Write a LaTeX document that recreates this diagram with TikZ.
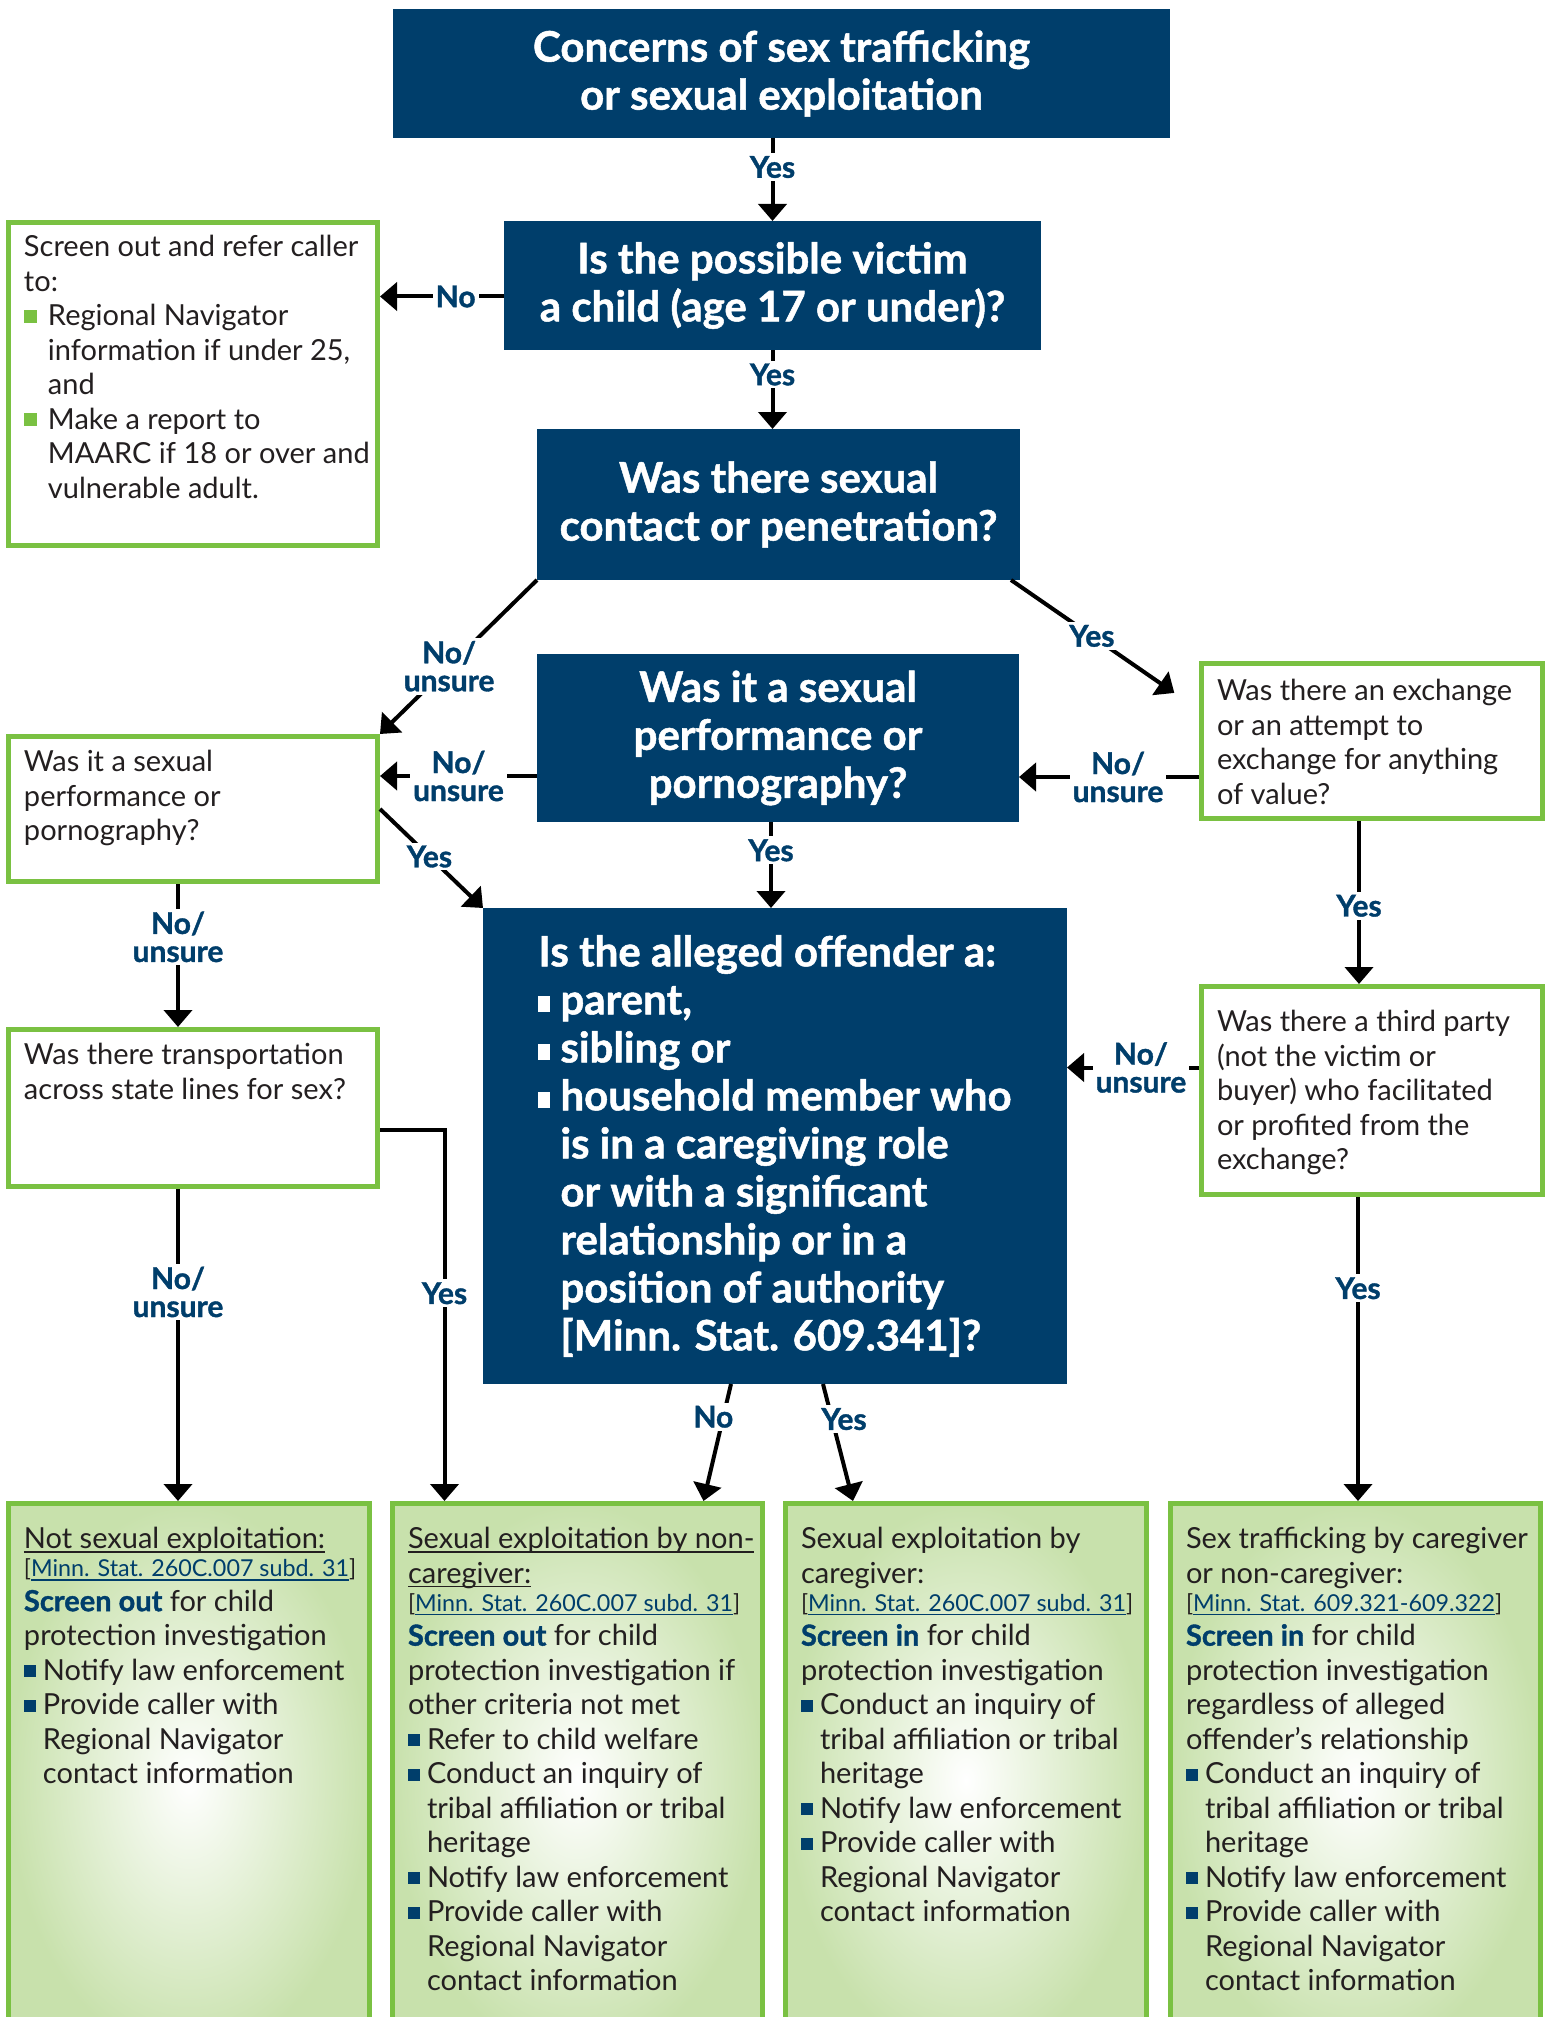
\documentclass[tikz,border=0pt]{standalone}
\usepackage{fontspec}
\setmainfont{Lato}[BoldFeatures={FakeBold=1.2}]
\usepackage{tikz}
\usetikzlibrary{arrows.meta}

\definecolor{navy}{RGB}{0,62,107}
\definecolor{grn}{RGB}{122,193,66}
\definecolor{lgrn}{RGB}{200,225,172}
\definecolor{ink}{RGB}{35,31,32}

\newcommand{\qfont}{\fontsize{42}{48}\selectfont\bfseries}
\newcommand{\bodyfont}{\fontsize{29}{34.5}\selectfont}
\newcommand{\lblfont}{\fontsize{30}{28}\selectfont\bfseries}
\newcommand{\boxtext}[4][11pt]{\parbox[t][#3][t]{#2}{\raggedright\leftskip=15.5pt\vspace*{#1}\strut #4}}
\newcommand{\undl}[1]{\leavevmode\setbox0\hbox{#1}\rlap{\rule[-4pt]{\wd0}{1.3pt}}\box0}
\newcommand{\gsq}{\makebox[24pt][l]{\textcolor{grn}{\rule[3pt]{13pt}{13pt}}}}
\newcommand{\nsq}{\makebox[19pt][l]{\textcolor{navy}{\rule[3pt]{12pt}{12pt}}}}
\newcommand{\wsq}{\makebox[22pt][l]{\rule[2pt]{12pt}{16pt}}}
\newcommand{\gin}{\hspace*{24pt}}
\newcommand{\nin}{\hspace*{19pt}}
\newcommand{\win}{\hspace*{22pt}}
\newcommand{\scr}[1]{\textcolor{navy}{\textbf{#1}}}
\newcommand{\stat}[1]{{\fontsize{23.3}{28}\selectfont[\textcolor{navy}{\undl{Minn. Stat. #1}}]}}

\tikzset{
  qbox/.style={fill=navy, text=white, font=\qfont, align=center, inner sep=0pt, outer sep=0pt},
  gline/.style={draw=grn, line width=5pt, inner sep=0pt, anchor=north west, text=ink, font=\bodyfont},
  gbox/.style={gline, fill=white},
  rbox/.style={gline, inner color=white, outer color=lgrn},
  lbl/.style={fill=white, text=navy, font=\lblfont, align=center, inner sep=3pt}
}

\begin{document}
\begin{tikzpicture}[x=1pt, y=-1pt, line width=4pt, >={Triangle[width=28pt,length=17pt]}]
    \useasboundingbox (0,0) rectangle (1552,2017);
    \clip (0,0) rectangle (1552,2017);

    % questions
    \node[qbox, minimum width=777pt, minimum height=129pt] (concern) at (781.5,73.5) {Concerns of sex trafficking\\or sexual exploitation};
    \node[qbox, minimum width=537pt, minimum height=129pt] (child) at (772.5,285.5) {Is the possible victim\\a child (age 17 or under)?};
    \node[qbox, minimum width=483pt, minimum height=151pt] (contact) at (778.5,504.5) {Was there sexual\\contact or penetration?};
    \node[qbox, minimum width=482pt, minimum height=168pt] (perform) at (778,738) {Was it a sexual\\performance or\\pornography?};
    \node[qbox, minimum width=584pt, minimum height=476pt, align=left] (offender) at (775,1146) {Is the alleged offender a:\\
        \wsq parent,\\
        \wsq sibling or\\
        \wsq household member who\\
        \win is in a caregiving role\\
        \win or with a significant\\
        \win relationship or in a\\
        \win position of authority\\
        \win [Minn. Stat. 609.341]?};

    % side questions
    \node[gbox] (refer) at (6,220) {\boxtext[10pt]{369pt}{323pt}{Screen out and refer caller\\
        to:\\
        \gsq Regional Navigator\\
        \gin information if under 25,\\
        \gin and\\
        \gsq Make a report to\\
        \gin MAARC if 18 or over and\\
        \gin vulnerable adult.}};
    \node[gbox] (perf) at (6,734) {\boxtext{369pt}{145pt}{Was it a sexual\\performance or\\pornography?}};
    \node[gbox] (trans) at (6,1027) {\boxtext{369pt}{157pt}{Was there transportation\\across state lines for sex?}};
    \node[gbox] (exch) at (1199,661) {\boxtext[13pt]{341pt}{155pt}{Was there an exchange\\or an attempt to\\exchange for anything\\of value?}};
    \node[gbox] (third) at (1199,984) {\boxtext[21pt]{341pt}{208pt}{Was there a third party\\(not the victim or\\buyer) who facilitated\\or profited from the\\exchange?}};

    % outcomes
    \node[rbox] (notsx) at (6,1501) {\boxtext[21pt]{361pt}{554pt}{\undl{Not sexual exploitation:}\\[-6.5pt]
        \stat{260C.007 subd. 31}\\
        \scr{Screen out} for child\\
        protection investigation\\
        \nsq Notify law enforcement\\
        \nsq Provide caller with\\
        \nin Regional Navigator\\
        \nin contact information}};
    \node[rbox] (noncare) at (390,1501) {\boxtext[21pt]{370pt}{554pt}{\undl{Sexual exploitation by non-}\\
        \undl{caregiver:}\\[-6.5pt]
        \stat{260C.007 subd. 31}\\
        \scr{Screen out} for child\\
        protection investigation if\\
        other criteria not met\\
        \nsq Refer to child welfare\\
        \nsq Conduct an inquiry of\\
        \nin tribal affiliation or tribal\\
        \nin heritage\\
        \nsq Notify law enforcement\\
        \nsq Provide caller with\\
        \nin Regional Navigator\\
        \nin contact information}};
    \node[rbox] (care) at (783,1501) {\boxtext[21pt]{361pt}{554pt}{Sexual exploitation by\\
        caregiver:\\[-6.5pt]
        \stat{260C.007 subd. 31}\\
        \scr{Screen in} for child\\
        protection investigation\\
        \nsq Conduct an inquiry of\\
        \nin tribal affiliation or tribal\\
        \nin heritage\\
        \nsq Notify law enforcement\\
        \nsq Provide caller with\\
        \nin Regional Navigator\\
        \nin contact information}};
    \node[rbox] (traff) at (1168,1501) {\boxtext[21pt]{370pt}{554pt}{Sex trafficking by caregiver\\
        or non-caregiver:\\[-6.5pt]
        \stat{609.321-609.322}\\
        \scr{Screen in} for child\\
        protection investigation\\
        regardless of alleged\\
        offender’s relationship\\
        \nsq Conduct an inquiry of\\
        \nin tribal affiliation or tribal\\
        \nin heritage\\
        \nsq Notify law enforcement\\
        \nsq Provide caller with\\
        \nin Regional Navigator\\
        \nin contact information}};

    % arrows
    \draw [->] (concern.south -| child.north) to node[lbl, pos=.35]{Yes} (child.north);
    \draw [->] ([yshift=-11pt]child.west) to node[lbl, pos=.39]{No} ([yshift=-11pt]child.west -| refer.east);
    \draw [->] (child.south) to node[lbl, pos=.31]{Yes} (child.south |- contact.north);
    \draw [->] (contact.south west) to node[lbl, pos=.56]{No/\\unsure} (perf.north east);
    \draw [->, shorten >=30pt] ([xshift=-9pt]contact.south east) to node[lbl, pos=.43]{Yes} ([yshift=-49pt]exch.north west);
    \draw [->] ([yshift=-36pt]exch.west) to node[lbl, pos=.45]{No/\\unsure} ([yshift=-36pt]exch.west -| perform.east);
    \draw [->] ([yshift=-38pt]perform.west) to node[lbl, pos=.5]{No/\\unsure} ([yshift=-38pt]perform.west -| perf.east);
    \draw [->] ([xshift=-7pt]perform.south) to node[lbl, pos=.33]{Yes} ([xshift=-7pt]perform.south |- offender.north);
    \draw [->] (perf.east) to node[lbl, pos=.48]{Yes} (offender.north west);
    \draw [->] ([xshift=-15pt]perf.south) to node[lbl, pos=.37]{No/\\unsure} ([xshift=-15pt]trans.north);
    \draw [->] ([xshift=-13pt]exch.south) to node[lbl, pos=.52]{Yes} ([xshift=-13pt]third.north);
    \draw [->] ([yshift=23pt]third.west) to node[lbl, pos=.44]{No/\\unsure} ([yshift=23pt]third.west -| offender.east);
    \draw [->] ([xshift=-15pt]trans.south) to node[lbl, pos=.33]{No/\\unsure} ([xshift=-15pt]trans.south |- notsx.north);
    \draw [->] ([yshift=-22pt]trans.east) -| node[lbl, pos=.72]{Yes} ([xshift=-133pt]noncare.north);
    \draw [->] ([xshift=-44pt]offender.south) to node[lbl, pos=.28, xshift=-10pt]{No} ([xshift=126pt]noncare.north);
    \draw [->] ([xshift=48pt]offender.south) to node[lbl, pos=.3, xshift=12pt]{Yes} ([xshift=-113pt]care.north);
    \draw [->] ([xshift=-14pt]third.south) to node[lbl, pos=.3]{Yes} ([xshift=-14pt]third.south |- traff.north);
\end{tikzpicture}
\end{document}
